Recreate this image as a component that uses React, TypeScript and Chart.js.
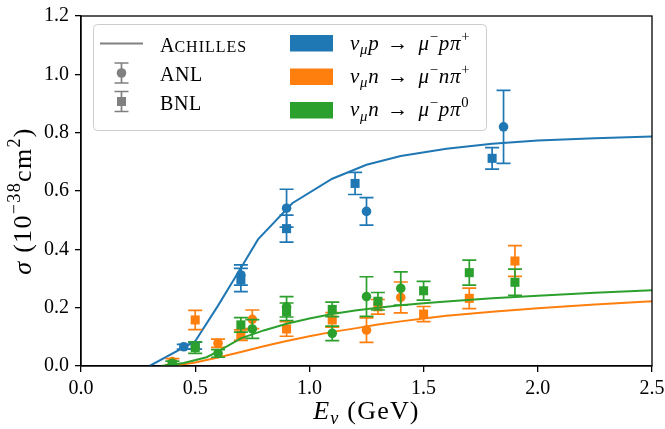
import React, { useEffect, useRef } from 'react';
import { Chart, registerables } from 'chart.js';

Chart.register(...registerables);

const BLUE = '#1f77b4';
const ORANGE = '#ff7f0e';
const GREEN = '#2ca02c';
const GRAY = '#808080';
const SERIF = '"Liberation Serif", "DejaVu Serif", serif';

// ---- Achilles model curves ----
const modelPpipE = [0.3, 0.5, 0.6, 0.7, 0.775, 0.925, 1.1, 1.25, 1.4, 1.6, 1.8, 2.0, 2.25, 2.5];
const modelPpipS = [0, 0.085, 0.207, 0.336, 0.434, 0.558, 0.642, 0.69, 0.72, 0.745, 0.762, 0.773, 0.781, 0.787];

const modelNpipE = [0.4, 0.5, 0.6, 0.7, 0.8, 0.9, 1.0, 1.1, 1.2, 1.3, 1.4, 1.5, 1.6, 1.8, 2.0, 2.25, 2.5];
const modelNpipS = [0, 0.012, 0.029, 0.048, 0.068, 0.086, 0.102, 0.117, 0.129, 0.142, 0.153, 0.163, 0.172, 0.186, 0.198, 0.211, 0.222];

const modelPpi0E = [0.35, 0.45, 0.55, 0.6, 0.7, 0.8, 0.9, 1.0, 1.1, 1.2, 1.3, 1.4, 1.5, 1.6, 1.8, 2.0, 2.25, 2.5];
const modelPpi0S = [0, 0.01, 0.03, 0.05, 0.095, 0.122, 0.145, 0.163, 0.178, 0.19, 0.2, 0.208, 0.215, 0.221, 0.232, 0.241, 0.251, 0.26];

// ---- ANL data (circles) ----
const anlPpipE = [0.45, 0.7, 0.9, 1.25, 1.85];
const anlPpipS = [0.066, 0.312, 0.541, 0.53, 0.82];
const anlPpipErr = [0.008, 0.035, 0.065, 0.047, 0.125];

const anlNpipE = [0.4, 0.6, 0.75, 1.25, 1.4];
const anlNpipS = [0.015, 0.078, 0.16, 0.123, 0.235];
const anlNpipErr = [0.01, 0.014, 0.032, 0.042, 0.053];

const anlPpi0E = [0.4, 0.6, 0.75, 0.9, 1.1, 1.25, 1.4];
const anlPpi0S = [0.009, 0.043, 0.127, 0.203, 0.112, 0.238, 0.266];
const anlPpi0Err = [0.008, 0.013, 0.032, 0.035, 0.025, 0.068, 0.057];

// ---- BNL data (squares) ----
const bnlPpipE = [0.5, 0.7, 0.9, 1.2, 1.8];
const bnlPpipS = [0.07, 0.295, 0.471, 0.626, 0.712];
const bnlPpipErr = [0.012, 0.04, 0.046, 0.038, 0.037];

const bnlNpipE = [0.5, 0.7, 0.9, 1.1, 1.3, 1.5, 1.7, 1.9];
const bnlNpipS = [0.158, 0.106, 0.127, 0.158, 0.203, 0.178, 0.232, 0.36];
const bnlNpipErr = [0.033, 0.018, 0.025, 0.025, 0.025, 0.026, 0.035, 0.053];

const bnlPpi0E = [0.5, 0.7, 0.9, 1.1, 1.3, 1.5, 1.7, 1.9];
const bnlPpi0S = [0.063, 0.141, 0.186, 0.194, 0.222, 0.258, 0.32, 0.287];
const bnlPpi0Err = [0.02, 0.025, 0.03, 0.025, 0.03, 0.032, 0.043, 0.045];

// ---- axis ----
const xTicks = [0, 0.5, 1.0, 1.5, 2.0, 2.5];
const yTicks = [0, 0.2, 0.4, 0.6, 0.8, 1.0, 1.2];

type Seg = { t: string; it?: boolean; s?: number; dy?: number; ls?: number };

function fontFor(seg: Seg, size: number) {
  const sz = size * (seg.s ?? 1);
  return `${seg.it ? 'italic ' : ''}${sz}px ${SERIF}`;
}

function drawRich(
  ctx: CanvasRenderingContext2D,
  segs: Seg[],
  x: number,
  y: number,
  size: number,
  align: 'left' | 'center',
  baseLs = 0
) {
  ctx.save();
  ctx.textBaseline = 'alphabetic';
  ctx.textAlign = 'left';
  const widths = segs.map((sg) => {
    ctx.font = fontFor(sg, size);
    (ctx as any).letterSpacing = `${sg.ls ?? baseLs}px`;
    return ctx.measureText(sg.t).width;
  });
  const total = widths.reduce((a, b) => a + b, 0);
  let cx = align === 'center' ? x - total / 2 : x;
  segs.forEach((sg, i) => {
    ctx.font = fontFor(sg, size);
    (ctx as any).letterSpacing = `${sg.ls ?? baseLs}px`;
    ctx.fillText(sg.t, cx, y + (sg.dy ?? 0) * size);
    cx += widths[i];
  });
  ctx.restore();
}

const CAP = 7;

const errorBarPlugin = {
  id: 'errorBars',
  beforeDatasetDraw(chart: any, args: any) {
    const ds = chart.data.datasets[args.index];
    if (!ds.errors) return;
    const ctx: CanvasRenderingContext2D = chart.ctx;
    const xs = chart.scales.x;
    const ys = chart.scales.y;
    const area = chart.chartArea;
    ctx.save();
    ctx.beginPath();
    ctx.rect(area.left, area.top, area.right - area.left, area.bottom - area.top);
    ctx.clip();
    ctx.strokeStyle = ds.errColor;
    ctx.lineWidth = 1.7;
    ds.data.forEach((p: any, i: number) => {
      const e = ds.errors[i];
      const px = xs.getPixelForValue(p.x);
      const y1 = ys.getPixelForValue(p.y - e);
      const y2 = ys.getPixelForValue(p.y + e);
      ctx.beginPath();
      ctx.moveTo(px, y1);
      ctx.lineTo(px, y2);
      ctx.moveTo(px - CAP, y1);
      ctx.lineTo(px + CAP, y1);
      ctx.moveTo(px - CAP, y2);
      ctx.lineTo(px + CAP, y2);
      ctx.stroke();
    });
    ctx.restore();
  },
};

const framePlugin = {
  id: 'frameAndText',
  afterDatasetsDraw(chart: any) {
    const ctx: CanvasRenderingContext2D = chart.ctx;
    const a = chart.chartArea;
    ctx.save();
    ctx.strokeStyle = '#000';
    ctx.lineWidth = 1.3;
    ctx.strokeRect(a.left, a.top, a.right - a.left, a.bottom - a.top);
    ctx.restore();
  },
  afterDraw(chart: any) {
    const ctx: CanvasRenderingContext2D = chart.ctx;
    const a = chart.chartArea;
    ctx.save();
    ctx.fillStyle = '#000';
    // x label
    drawRich(
      ctx,
      [{ t: 'E', it: true }, { t: 'ν', it: true, s: 0.7, dy: 0.2 }, { t: ' (GeV)' }],
      (a.left + a.right) / 2,
      419,
      26,
      'center',
      1.2
    );
    // y label
    ctx.save();
    ctx.translate(31, 201);
    ctx.rotate(-Math.PI / 2);
    drawRich(
      ctx,
      [
        { t: 'σ', it: true },
        { t: ' (10' },
        { t: '−38', s: 0.7, dy: -0.42 },
        { t: 'cm' },
        { t: '2', s: 0.7, dy: -0.42 },
        { t: ')' },
      ],
      0,
      0,
      26,
      'center',
      1.3
    );
    ctx.restore();

    // legend box
    ctx.save();
    ctx.beginPath();
    (ctx as any).roundRect(93.5, 24.5, 393, 106, 4);
    ctx.fillStyle = 'rgba(255,255,255,0.8)';
    ctx.fill();
    ctx.strokeStyle = '#cccccc';
    ctx.lineWidth = 1;
    ctx.stroke();
    ctx.restore();

    // legend: Achilles line
    ctx.save();
    ctx.strokeStyle = GRAY;
    ctx.lineWidth = 2;
    ctx.beginPath();
    ctx.moveTo(100, 43.5);
    ctx.lineTo(143, 43.5);
    ctx.stroke();
    const icon = (cx: number, cy: number, square: boolean) => {
      ctx.strokeStyle = GRAY;
      ctx.fillStyle = GRAY;
      ctx.lineWidth = 1.7;
      ctx.beginPath();
      ctx.moveTo(cx, cy - 10);
      ctx.lineTo(cx, cy + 10);
      ctx.moveTo(cx - CAP, cy - 10);
      ctx.lineTo(cx + CAP, cy - 10);
      ctx.moveTo(cx - CAP, cy + 10);
      ctx.lineTo(cx + CAP, cy + 10);
      ctx.stroke();
      ctx.beginPath();
      if (square) ctx.rect(cx - 4.5, cy - 4.5, 9, 9);
      else ctx.arc(cx, cy, 4.8, 0, Math.PI * 2);
      ctx.fill();
    };
    icon(121.5, 73, false);
    icon(121.5, 101.5, true);
    ctx.restore();

    ctx.fillStyle = '#000';
    drawRich(ctx, [{ t: 'A' }, { t: 'CHILLES', s: 0.8, ls: 1 }], 160, 51.5, 20, 'left');
    drawRich(ctx, [{ t: 'ANL' }], 160, 81, 20, 'left', 0.6);
    drawRich(ctx, [{ t: 'BNL' }], 160, 110, 20, 'left', 0.6);

    // legend patches
    const patches = [BLUE, ORANGE, GREEN];
    const py = [35, 68.5, 102];
    patches.forEach((c, i) => {
      ctx.fillStyle = c;
      ctx.fillRect(290, py[i], 43, 16.5);
    });
    ctx.fillStyle = '#000';
    const proc = (target: string, final1: string, final2: string, charge: string): Seg[] => [
      { t: 'ν', it: true, ls: 0.8 },
      { t: 'μ', it: true, s: 0.7, dy: 0.22, ls: 0.8 },
      { t: target, it: true, ls: 0.8 },
      { t: ' → ', ls: 2.5 },
      { t: 'μ', it: true, ls: 0.5 },
      { t: '−', s: 0.7, dy: -0.42, ls: 0.8 },
      { t: final1, it: true, ls: 0.8 },
      { t: final2, it: true, ls: 0.8 },
      { t: charge, s: 0.7, dy: -0.42 },
    ];
    drawRich(ctx, proc('p', 'p', 'π', '+'), 350, 49.5, 21, 'left');
    drawRich(ctx, proc('n', 'n', 'π', '+'), 350, 82.5, 21, 'left');
    drawRich(ctx, proc('n', 'p', 'π', '0'), 350, 116, 21, 'left');
    ctx.restore();
  },
};

function pts(xs: number[], ys: number[]) {
  return xs.map((x, i) => ({ x, y: ys[i] }));
}

function lineDs(xs: number[], ys: number[], color: string, order: number) {
  return {
    data: pts(xs, ys),
    showLine: true,
    borderColor: color,
    backgroundColor: color,
    borderWidth: 2,
    pointRadius: 0,
    pointHoverRadius: 0,
    tension: 0,
    fill: false,
    order,
  };
}

function errDs(xs: number[], ys: number[], errs: number[], color: string, square: boolean, order: number) {
  return {
    data: pts(xs, ys),
    errors: errs,
    errColor: color,
    showLine: false,
    backgroundColor: color,
    borderColor: color,
    borderWidth: 0,
    pointStyle: square ? 'rect' : 'circle',
    pointRadius: square ? 6.4 : 4.8,
    pointHoverRadius: square ? 6.4 : 4.8,
    order,
  };
}

export default function App() {
  const ref = useRef<HTMLCanvasElement>(null);
  useEffect(() => {
    const canvas = ref.current!;
    const tickFont = { family: SERIF, size: 20 };
    const chart = new Chart(canvas, {
      type: 'scatter',
      data: {
        datasets: [
          lineDs(modelPpipE, modelPpipS, BLUE, 9),
          errDs(anlPpipE, anlPpipS, anlPpipErr, BLUE, false, 8),
          errDs(bnlPpipE, bnlPpipS, bnlPpipErr, BLUE, true, 7),
          lineDs(modelNpipE, modelNpipS, ORANGE, 6),
          errDs(anlNpipE, anlNpipS, anlNpipErr, ORANGE, false, 5),
          errDs(bnlNpipE, bnlNpipS, bnlNpipErr, ORANGE, true, 4),
          lineDs(modelPpi0E, modelPpi0S, GREEN, 3),
          errDs(anlPpi0E, anlPpi0S, anlPpi0Err, GREEN, false, 2),
          errDs(bnlPpi0E, bnlPpi0S, bnlPpi0Err, GREEN, true, 1),
        ] as any,
      },
      options: {
        responsive: false,
        animation: false,
        devicePixelRatio: 1,
        events: [],
        layout: { padding: { left: 0, right: 13, top: 16, bottom: 0 } },
        plugins: { legend: { display: false }, tooltip: { enabled: false } },
        scales: {
          x: {
            type: 'linear',
            min: 0,
            max: 2.5,
            afterBuildTicks: (s: any) => {
              s.ticks = xTicks.map((v) => ({ value: v }));
            },
            ticks: {
              font: tickFont,
              color: '#000',
              padding: 5,
              maxRotation: 0,
              autoSkip: false,
              callback: (v: any) => Number(v).toFixed(1),
            },
            grid: { drawOnChartArea: false, drawTicks: true, tickLength: 6, color: '#000', lineWidth: 1.3 },
            border: { display: true, color: '#000', width: 1.3 },
            afterFit: (s: any) => {
              s.height = 63;
              s.paddingLeft = 0;
              s.paddingRight = 0;
            },
          },
          y: {
            type: 'linear',
            min: 0,
            max: 1.2,
            afterBuildTicks: (s: any) => {
              s.ticks = yTicks.map((v) => ({ value: v }));
            },
            ticks: {
              font: tickFont,
              color: '#000',
              padding: 6,
              autoSkip: false,
              callback: (v: any) => Number(v).toFixed(1),
            },
            grid: { drawOnChartArea: false, drawTicks: true, tickLength: 6, color: '#000', lineWidth: 1.3 },
            border: { display: true, color: '#000', width: 1.3 },
            afterFit: (s: any) => {
              s.width = 81;
              s.paddingTop = 0;
              s.paddingBottom = 0;
            },
          },
        },
      } as any,
      plugins: [errorBarPlugin, framePlugin],
    });
    return () => chart.destroy();
  }, []);
  return (
    <div style={{ position: 'absolute', left: 0, top: 0, width: 665, height: 429, background: '#fff' }}>
      <canvas ref={ref} width={665} height={429} style={{ display: 'block', width: 665, height: 429 }} />
    </div>
  );
}
